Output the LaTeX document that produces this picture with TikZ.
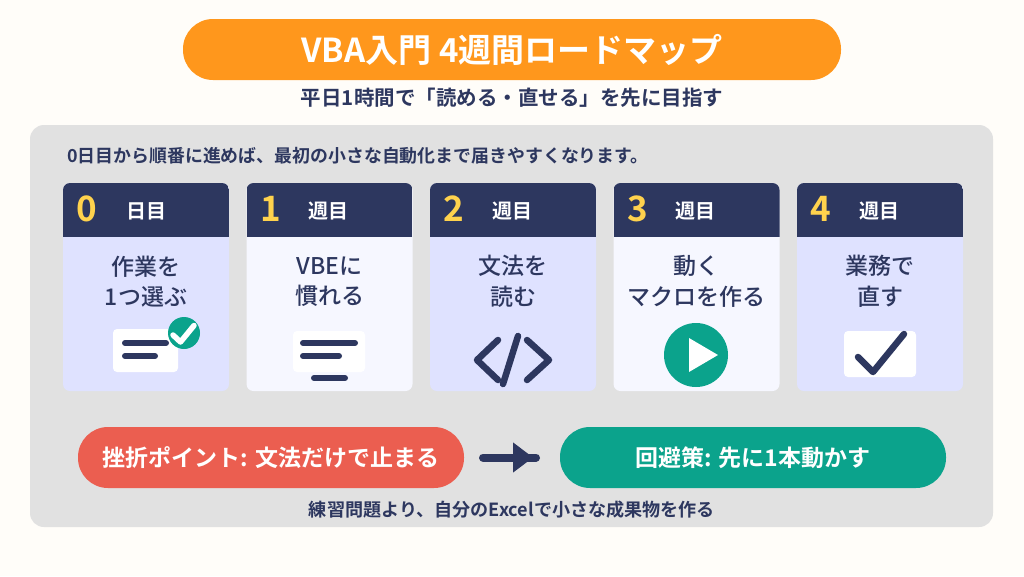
\documentclass[tikz,border=0pt]{standalone}
\usepackage{fontspec}
\setmainfont{Noto Sans CJK JP}[BoldFont={Noto Sans CJK JP Bold}]
\newfontfamily\medjp{Noto Sans CJK JP Medium}
\usepackage{tikz}
\usetikzlibrary {arrows.meta,
                 calc,
                 positioning}
\definecolor{navy}{HTML}{2D375F}
\definecolor{paper}{HTML}{FFFDF9}
\definecolor{panelgray}{HTML}{E1E1E1}
\definecolor{cardblue}{HTML}{DFE2FF}
\definecolor{cardpale}{HTML}{F6F7FF}
\definecolor{sun}{HTML}{FFD24D}
\definecolor{amber}{HTML}{FF971C}
\definecolor{coral}{HTML}{EB5E50}
\definecolor{teal}{HTML}{0BA38C}
\tikzset{
        txt/.style={text=navy, inner sep=0pt, align=center},
        pill/.style={rounded corners=30pt, inner sep=0pt, outer sep=0pt, text=white,
                     minimum height=61pt},
        title/.style={pill, fill=amber, minimum width=658pt,
                      font=\fontsize{33}{38}\selectfont\bfseries},
        warn/.style={pill, minimum width=386pt,
                     font=\fontsize{23}{27}\selectfont\bfseries},
        card/.style={rounded corners=7pt, inner sep=0pt, outer sep=0pt, anchor=north west,
                     minimum width=166pt, minimum height=208pt,
                     path picture={\fill[navy, sharp corners] (path picture bounding box.north west)
                                   rectangle ++(166,54);}},
        num/.style={txt, text=sun, font=\fontsize{35}{40}\selectfont\bfseries},
        unit/.style={txt, text=white, font=\fontsize{20}{24}\selectfont\bfseries},
        step text/.style={txt, font=\fontsize{23}{30.5}\selectfont\medjp},
        note/.style={fill=white, rounded corners=4pt, inner sep=0pt},
        bar/.style={navy, line width=6pt, line cap=round},
        icon/.style={navy, line width=6.5pt, line cap=round, line join=round},
        tick/.style={white, line width=5.5pt, line cap=round, line join=round},
 }

\begin{document}
\begin{tikzpicture}[x=1pt, y=-1pt]
    \fill[paper] (0,0) rectangle (1024,576);
    \useasboundingbox (0,0) rectangle (1024,576);
    \fill[panelgray, rounded corners=14pt] (30,125) rectangle (993,527);

    \node[title] (head) at (512,49.5) {VBA入門 4週間ロードマップ};
    \node[txt, font=\fontsize{20.5}{24}\selectfont\bfseries] (sub) at (512,98)
         {平日1時間で「読める・直せる」を先に目指す};
    \node[txt, anchor=west, font=\fontsize{17.9}{21}\selectfont\bfseries] (intro) at (67,156)
         {0日目から順番に進めば、最初の小さな自動化まで届きやすくなります。};

    % cards
    \node[card, fill=cardblue] (c0) at (63,183) {};
    \node[card, fill=cardpale, right=17.5pt of c0.north east, anchor=north west] (c1) {};
    \node[card, fill=cardblue, right=17.5pt of c1.north east, anchor=north west] (c2) {};
    \node[card, fill=cardpale, right=17.5pt of c2.north east, anchor=north west] (c3) {};
    \node[card, fill=cardblue, right=17.5pt of c3.north east, anchor=north west] (c4) {};

    \node[num] (n0) at ($(c0.north west)+(24,26)$) {0};
    \node[num] (n1) at ($(c1.north west)+(24,26)$) {1};
    \node[num] (n2) at ($(c2.north west)+(24,26)$) {2};
    \node[num] (n3) at ($(c3.north west)+(24,26)$) {3};
    \node[num] (n4) at ($(c4.north west)+(24,26)$) {4};

    \node[unit] (u0) at ($(c0.north west)+(83,28.5)$) {日目};
    \node[unit] (u1) at ($(c1.north west)+(82,28.5)$) {週目};
    \node[unit] (u2) at ($(c2.north west)+(82,28.5)$) {週目};
    \node[unit] (u3) at ($(c3.north west)+(82,28.5)$) {週目};
    \node[unit] (u4) at ($(c4.north west)+(82,28.5)$) {週目};

    \node[step text] (t0) at ($(c0.north)+(0,98.5)$) {作業を\\1つ選ぶ};
    \node[step text] (t1) at ($(c1.north)+(0,98.5)$) {VBEに\\慣れる};
    \node[step text] (t2) at ($(c2.north)+(0,98.5)$) {文法を\\読む};
    \node[step text] (t3) at ($(c3.north)+(0,98.5)$) {動く\\マクロを作る};
    \node[step text] (t4) at ($(c4.north)+(0,98.5)$) {業務で\\直す};

    % icons
    \node[note, minimum width=65pt, minimum height=43pt] (note0) at (145.5,350.5) {};
    \draw[bar] (125,343) -- (166,343);
    \draw[bar] (125,356) -- (155,356);
    \fill[teal] (184,333) circle (16);
    \draw[tick] (173,335) -- (180.5,342) -- (194,325.5);

    \node[note, minimum width=72pt, minimum height=41pt] (note1) at (329,351.5) {};
    \draw[bar] (303,343) -- (355,343);
    \draw[bar] (303,356) -- (339,356);
    \draw[bar] (314,378) -- (345,378);

    \draw[icon] (498,340) -- (477,360) -- (498,380);
    \draw[icon] (527,340) -- (549,360) -- (527,380);
    \draw[icon] (518,336) -- (503,384);

    \fill[teal] (696,355) circle (32);
    \fill[white] (689,338) -- (718,355) -- (689,372) -- cycle;

    \node[note, minimum width=72pt, minimum height=46pt] (note4) at (880,354) {};
    \draw[icon] (858,357) -- (873,372) -- (904,334);

    % bottom row
    \node[warn, fill=coral] (fail) at (271,457.5) {挫折ポイント: 文法だけで止まる};
    \node[warn, fill=teal, right=96pt of fail] (fix) {回避策: 先に1本動かす};
    \draw[navy, line width=8pt, line cap=round, shorten <=19pt, shorten >=24pt] (fail) -- (fix);
    \draw[navy, line width=1pt, -{Triangle[length=20pt, width=30pt]}, shorten <=40pt, shorten >=27pt] (fail) -- (fix);
    \node[txt, font=\fontsize{18.1}{22}\selectfont\bfseries] (tip) at (512,510)
         {練習問題より、自分のExcelで小さな成果物を作る};

\end{tikzpicture}
\end{document}
